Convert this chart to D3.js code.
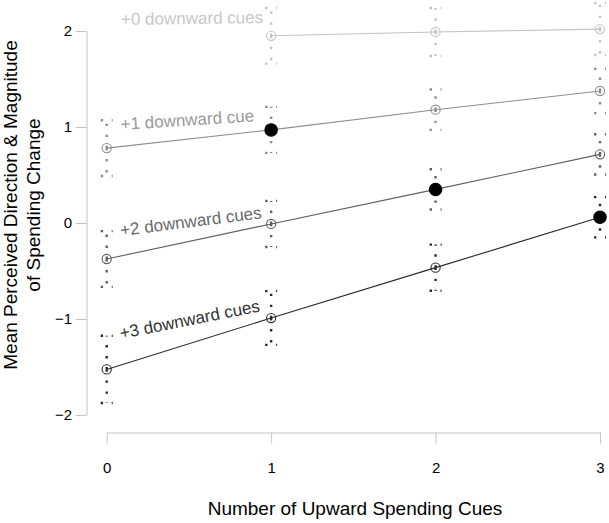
<!DOCTYPE html>
<html>
<head>
<meta charset="utf-8">
<script src="https://cdn.jsdelivr.net/npm/d3@7"></script>
<style>
  html, body { margin: 0; padding: 0; background: #fff; }
  svg { display: block; font-family: "Liberation Sans", Arial, Helvetica, sans-serif; }
</style>
</head>
<body>
<svg id="chart" width="609" height="523"></svg>
<script>
// Number of upward spending cues (x categories)
const upwardCues = [0, 1, 2, 3];
const xTicks = [0, 1, 2, 3];
const yTicks = [-2, -1, 0, 1, 2];

// Mean perceived direction & magnitude, one series per number of downward cues
const downward0 = [null, 1.95, 1.99, 2.02];
const downward1 = [0.78, 0.97, 1.18, 1.375];
const downward2 = [-0.375, -0.01, 0.35, 0.715];
const downward3 = [-1.525, -0.99, -0.465, 0.06];

// Half-widths of the error bars
const err0 = [null, 0.29, 0.25, 0.27];
const err1 = [0.29, 0.24, 0.21, 0.23];
const err2 = [0.29, 0.24, 0.21, 0.21];
const err3 = [0.35, 0.28, 0.24, 0.21];

const seriesLabels = ["+0 downward cues", "+1 downward cue", "+2 downward cues", "+3 downward cues"];

const series = [
  { down: 0, means: downward0, errs: err0, label: seriesLabels[0], line: "#c4c4c4", text: "#c8c8c8", angle: -0.8, lx: 121, ly: 25 },
  { down: 1, means: downward1, errs: err1, label: seriesLabels[1], line: "#8e8e8e", text: "#9a9a9a", angle: -3.7, lx: 121, ly: 130 },
  { down: 2, means: downward2, errs: err2, label: seriesLabels[2], line: "#5e5e5e", text: "#6a6a6a", angle: -7.2, lx: 121, ly: 236 },
  { down: 3, means: downward3, errs: err3, label: seriesLabels[3], line: "#2a2a2a", text: "#333333", angle: -11.2, lx: 121, ly: 339 }
];

const svg = d3.select("#chart");

const x = d3.scaleLinear().domain([0, 3]).range([106.7, 600]);
const y = d3.scaleLinear().domain([-2, 2]).range([415, 31]);

const axisColor = "#c4c4c4";

// Y axis
const yAxis = svg.append("g")
  .attr("transform", "translate(86.5,0)")
  .call(d3.axisLeft(y).tickValues(yTicks).tickSize(11).tickSizeOuter(0).tickPadding(3.5)
    .tickFormat(d => (d < 0 ? "\u2212" + Math.abs(d) : String(d))));
yAxis.select(".domain").attr("stroke", axisColor);
yAxis.selectAll(".tick line").attr("stroke", axisColor);
yAxis.selectAll(".tick text").attr("fill", "#000").style("font-size", "15px")
  .style("font-family", "'Liberation Sans', Arial, sans-serif");

// X axis
const xAxis = svg.append("g")
  .attr("transform", "translate(0,432.5)")
  .call(d3.axisBottom(x).tickValues(xTicks).tickSize(11).tickSizeOuter(0).tickPadding(19)
    .tickFormat(d3.format("d")));
xAxis.select(".domain").attr("stroke", axisColor);
xAxis.selectAll(".tick line").attr("stroke", axisColor);
xAxis.selectAll(".tick text").attr("fill", "#000").style("font-size", "15px")
  .style("font-family", "'Liberation Sans', Arial, sans-serif");

// Axis titles
svg.append("text")
  .attr("x", 355).attr("y", 515)
  .attr("text-anchor", "middle")
  .style("font-size", "19px")
  .text("Number of Upward Spending Cues");

const yTitle = svg.append("text")
  .attr("transform", "translate(0,205) rotate(-90)")
  .attr("text-anchor", "middle")
  .style("font-size", "19px");
yTitle.append("tspan").attr("x", 0).attr("y", 17).text("Mean Perceived Direction & Magnitude");
yTitle.append("tspan").attr("x", 0).attr("y", 40).text("of Spending Change");

// Series
const plot = svg.append("g");

series.forEach(s => {
  const pts = upwardCues
    .map((c, i) => ({ c, m: s.means[i], e: s.errs[i] }))
    .filter(p => p.m !== null);

  const g = plot.append("g");

  // dotted error bars with caps
  pts.forEach(p => {
    const cx = x(p.c);
    const bar = g.append("g")
      .attr("stroke", s.line)
      .attr("stroke-width", 2.4)
      .attr("stroke-dasharray", "2.4,8.6")
      .attr("fill", "none");
    bar.append("line").attr("x1", cx).attr("x2", cx).attr("y1", y(p.m)).attr("y2", y(p.m + p.e));
    bar.append("line").attr("x1", cx).attr("x2", cx).attr("y1", y(p.m)).attr("y2", y(p.m - p.e));
    [p.m + p.e, p.m - p.e].forEach(v => {
      bar.append("line").attr("x1", cx - 6).attr("x2", cx + 6).attr("y1", y(v)).attr("y2", y(v));
    });
  });

  // connecting line
  g.append("path")
    .datum(pts)
    .attr("fill", "none")
    .attr("stroke", s.line)
    .attr("stroke-width", 1.1)
    .attr("d", d3.line().x(p => x(p.c)).y(p => y(p.m)));

  // markers: filled where upward cues equal downward cues
  g.selectAll("circle")
    .data(pts)
    .join("circle")
    .attr("cx", p => x(p.c))
    .attr("cy", p => y(p.m))
    .attr("r", p => (p.c === s.down ? 6.2 : 4.6))
    .attr("fill", p => (p.c === s.down ? "#000" : "none"))
    .attr("stroke", p => (p.c === s.down ? "#000" : s.line))
    .attr("stroke-width", 1.1);

  // series label
  g.append("text")
    .attr("transform", `translate(${s.lx},${s.ly}) rotate(${s.angle})`)
    .attr("fill", s.text)
    .style("font-size", "17px")
    .text(s.label);
});
</script>
</body>
</html>
